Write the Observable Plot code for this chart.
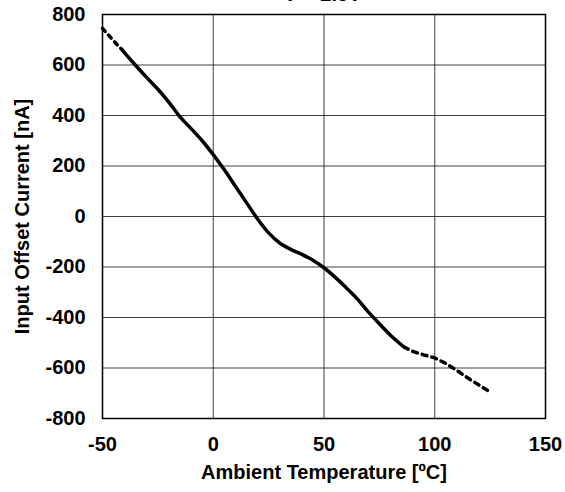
<!DOCTYPE html>
<html>
<head>
<meta charset="utf-8">
<script src="https://cdn.jsdelivr.net/npm/d3@7"></script>
<script src="https://cdn.jsdelivr.net/npm/@observablehq/plot@0.6"></script>
<style>
  body { margin: 0; background: #fff; }
  #wrap { position: relative; width: 565px; height: 492px; overflow: hidden; font-family: "Liberation Sans", Arial, sans-serif; }
  #title { position: absolute; top: -16px; left: 0; width: 565px; padding-left: 80px; box-sizing: border-box; text-align: center; font-weight: bold; font-size: 20px; line-height: 20px; }
  #chart { position: absolute; top: 0; left: 0; }
</style>
</head>
<body>
<div id="wrap">
  <div id="chart"></div>
  <div id="title"></div>
</div>
<script>
const titleText = "V+=2.5V";
const xLabel = "Ambient Temperature [ºC]";
const yLabel = "Input Offset Current [nA]";
const xTicks = [-50, 0, 50, 100, 150];
const yTicks = [-800, -600, -400, -200, 0, 200, 400, 600, 800];

// measured segment (solid)
const solidTemp = [-41, -40, -35, -30, -25, -20, -15, -10, -5, 0, 5, 10, 15, 20, 25, 30, 35, 40, 45, 50, 55, 60, 65, 70, 75, 80, 86];
const solidCurr = [659, 648, 598, 550, 504, 452, 395, 348, 300, 245, 185, 120, 55, -10, -65, -105, -130, -150, -173, -203, -240, -282, -326, -378, -425, -470, -516];
// sparse (dotted) ends
const lowTemp = [-50, -47, -44, -41];
const lowCurr = [745, 716, 686, 659];
const highTemp = [86, 90, 95, 100, 105, 110, 115, 120, 125];
const highCurr = [-516, -534, -548, -560, -582, -610, -640, -668, -695];

document.getElementById("title").textContent = titleText;

const solid = solidTemp.map((t, i) => ({t, v: solidCurr[i]}));
const low = lowTemp.map((t, i) => ({t, v: lowCurr[i]}));
const high = highTemp.map((t, i) => ({t, v: highCurr[i]}));

const font = "Liberation Sans, Arial, sans-serif";

const chart = Plot.plot({
  width: 565,
  height: 492,
  marginLeft: 102,
  marginRight: 20,
  marginTop: 14,
  marginBottom: 74,
  style: { fontFamily: font, background: "#fff", color: "#000" },
  x: { domain: [-50, 150], ticks: xTicks },
  y: { domain: [-800, 800], ticks: yTicks },
  marks: [
    Plot.gridX(xTicks, { stroke: "#000", strokeOpacity: 0.75, strokeWidth: 1 }),
    Plot.gridY(yTicks, { stroke: "#000", strokeOpacity: 0.75, strokeWidth: 1 }),
    Plot.frame({ stroke: "#000", strokeWidth: 1.5 }),
    Plot.axisX(xTicks, { tickSize: 0, tickPadding: 18, fontSize: 20, fontWeight: "bold", label: null, tickFormat: d => String(d) }),
    Plot.axisY(yTicks, { tickSize: 0, tickPadding: 17, fontSize: 20, fontWeight: "bold", label: null, tickFormat: d => String(d) }),
    Plot.text([xLabel], { frameAnchor: "bottom", dy: 60, fontSize: 20, fontWeight: "bold", text: d => d }),
    Plot.text([yLabel], { frameAnchor: "left", dx: -80, rotate: -90, textAnchor: "middle", fontSize: 20, fontWeight: "bold", text: d => d }),
    Plot.line(low, { x: "t", y: "v", stroke: "#000", strokeWidth: 3.5, strokeDasharray: "4,5" }),
    Plot.line(high, { x: "t", y: "v", stroke: "#000", strokeWidth: 3.5, strokeDasharray: "5,5" }),
    Plot.line(solid, { x: "t", y: "v", stroke: "#000", strokeWidth: 3.5, curve: "catmull-rom" })
  ]
});
document.getElementById("chart").appendChild(chart);
</script>
</body>
</html>
